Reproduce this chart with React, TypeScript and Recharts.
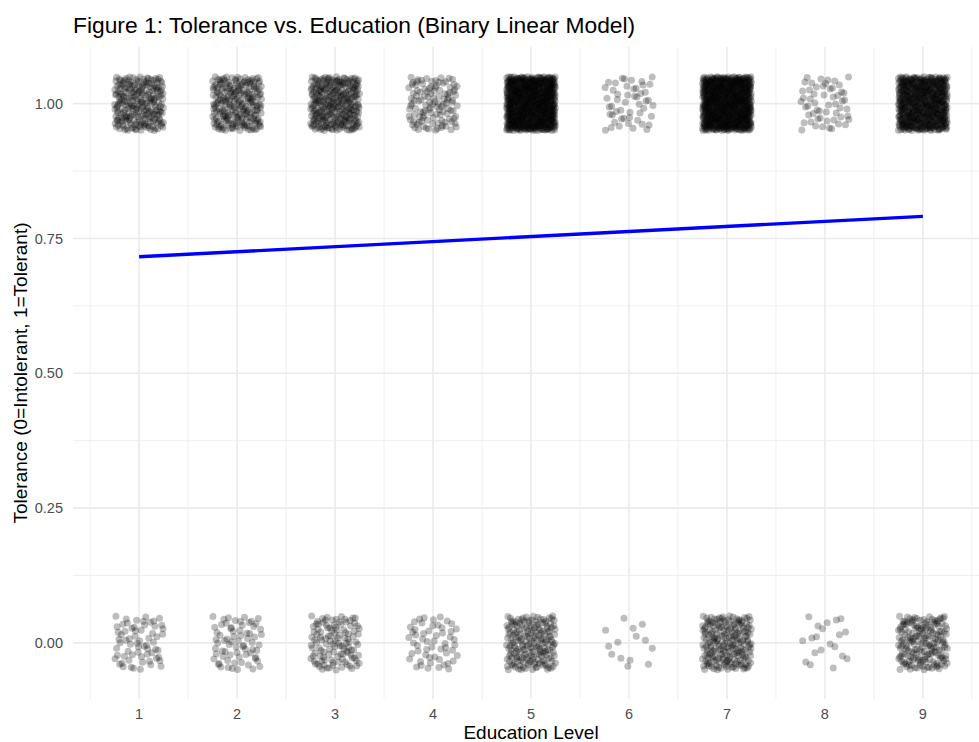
import React from 'react';
import { ScatterChart, Scatter, XAxis, YAxis, Label, ReferenceLine } from 'recharts';

// categories and counts (tolerant = 1, intolerant = 0)
const LEVELS = [1, 2, 3, 4, 5, 6, 7, 8, 9];
const TOLERANT_COUNTS = [240, 235, 300, 115, 750, 50, 750, 55, 600];
const INTOLERANT_COUNTS = [65, 70, 115, 55, 190, 14, 210, 20, 180];

// fitted linear model line
const FIT_LEVELS = [1, 9];
const FIT_VALUES = [0.716, 0.791];

const Y_TICKS = [0, 0.25, 0.5, 0.75, 1];
const X_MINOR = [0.5, 1.5, 2.5, 3.5, 4.5, 5.5, 6.5, 7.5, 8.5, 9.5];
const Y_MINOR = [0.125, 0.375, 0.625, 0.875];

// jitter like geom_jitter(width = 0.25, height = 0.05), deterministic quasi-random offsets
const JITTER_W = 0.25;
const JITTER_H = 0.05;

function halton(i: number, b: number) {
  let f = 1;
  let r = 0;
  while (i > 0) {
    f /= b;
    r += f * (i % b);
    i = Math.floor(i / b);
  }
  return r;
}

const points: { x: number; y: number }[] = [];
LEVELS.forEach((lvl, k) => {
  [
    { y: 1, n: TOLERANT_COUNTS[k] },
    { y: 0, n: INTOLERANT_COUNTS[k] },
  ].forEach((g, j) => {
    const start = 37 + (k * 2 + j) * 1291;
    for (let i = 0; i < g.n; i++) {
      points.push({
        x: lvl + (halton(start + i, 2) * 2 - 1) * JITTER_W,
        y: g.y + (halton(start + i, 3) * 2 - 1) * JITTER_H,
      });
    }
  });
});

const fit = FIT_LEVELS.map((x, i) => ({ x, y: FIT_VALUES[i] }));

const font = '"Liberation Sans", Arial, Helvetica, sans-serif';
const GRID = '#ebebeb';

const Dot = (props: any) => (
  <circle cx={props.cx} cy={props.cy} r={3.5} fill="#000" fillOpacity={0.26} />
);

export default function App() {
  return (
    <div style={{ position: 'absolute', left: 0, top: 0, width: 979, height: 742, overflow: 'hidden', background: '#fff', fontFamily: font }}>
      <div style={{ position: 'absolute', left: 73, top: 14, fontSize: 22.8, lineHeight: 1, color: '#000', whiteSpace: 'nowrap' }}>
        Figure 1: Tolerance vs. Education (Binary Linear Model)
      </div>
      <ScatterChart width={989} height={742} margin={{ top: 47, right: 0, bottom: 0, left: 0 }}>
        {X_MINOR.map((v) => (
          <ReferenceLine key={'xm' + v} x={v} stroke={GRID} strokeWidth={0.8} />
        ))}
        {Y_MINOR.map((v) => (
          <ReferenceLine key={'ym' + v} y={v} stroke={GRID} strokeWidth={0.8} />
        ))}
        {LEVELS.map((v) => (
          <ReferenceLine key={'x' + v} x={v} stroke={GRID} strokeWidth={1.6} />
        ))}
        {Y_TICKS.map((v) => (
          <ReferenceLine key={'y' + v} y={v} stroke={GRID} strokeWidth={1.6} />
        ))}
        <XAxis
          type="number"
          dataKey="x"
          domain={[0.325, 9.675]}
          ticks={LEVELS}
          allowDataOverflow
          height={43}
          tickSize={0}
          tickMargin={10}
          axisLine={false}
          tickLine={false}
          tick={{ fontSize: 14.5, fill: '#4d4d4d', fontFamily: font }}
        >
          <Label value="Education Level" position="insideBottom" offset={3} style={{ fontSize: 19, fill: '#000', fontFamily: font }} />
        </XAxis>
        <YAxis
          type="number"
          dataKey="y"
          domain={[-0.104, 1.105]}
          ticks={Y_TICKS}
          allowDataOverflow
          width={73}
          tickSize={0}
          tickMargin={10}
          axisLine={false}
          tickLine={false}
          tickFormatter={(v: number) => v.toFixed(2)}
          tick={{ fontSize: 14.5, fill: '#4d4d4d', fontFamily: font }}
        >
          <Label value="Tolerance (0=Intolerant, 1=Tolerant)" position="center" angle={-90} dx={-16.5} style={{ fontSize: 19, fill: '#000', fontFamily: font, textAnchor: 'middle' }} />
        </YAxis>
        <Scatter data={points} shape={Dot} isAnimationActive={false} />
        <Scatter data={fit} line={{ stroke: '#0000ff', strokeWidth: 3.4 }} shape={() => <g />} isAnimationActive={false} />
      </ScatterChart>
    </div>
  );
}
